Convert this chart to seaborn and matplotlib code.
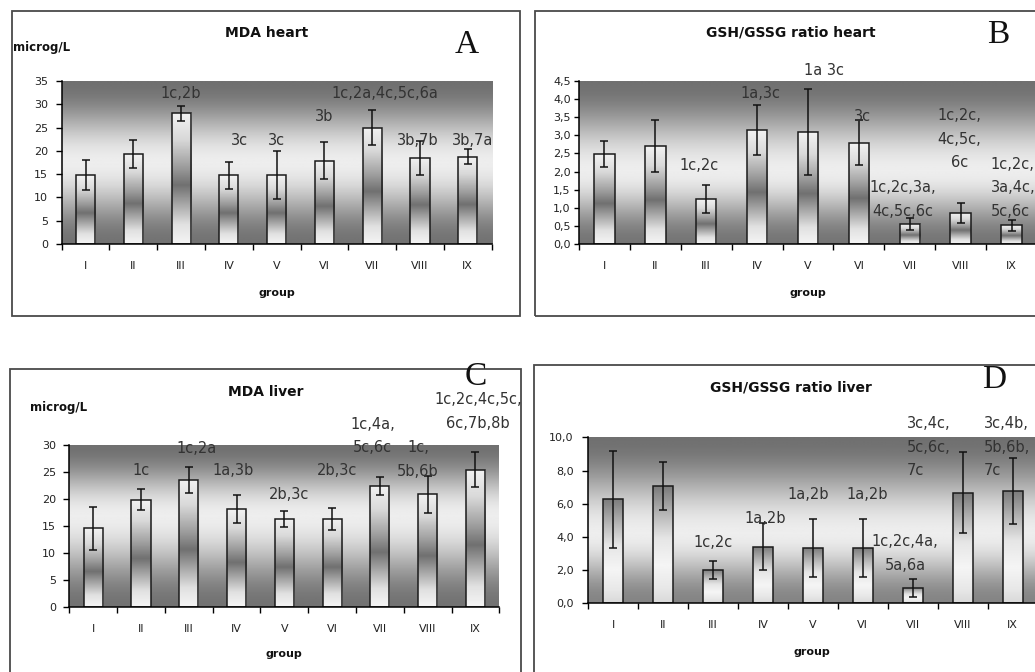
import numpy as np
import matplotlib
matplotlib.use("Agg")
import matplotlib.pyplot as plt
import seaborn as sns
import pandas as pd
from matplotlib.patches import Rectangle

# ---------------- data ----------------
groups = ["I", "II", "III", "IV", "V", "VI", "VII", "VIII", "IX"]

mda_heart = [14.8, 19.3, 28.1, 14.8, 14.8, 17.9, 25.0, 18.5, 18.7]
mda_heart_err = [3.2, 3.0, 1.6, 2.9, 5.1, 4.0, 3.8, 3.6, 1.6]
mda_heart_labels = ["", "", "1c,2b", "3c", "3c", "3b", "1c,2a,4c,5c,6a", "3b,7b", "3b,7a"]

gsh_heart = [2.48, 2.70, 1.24, 3.16, 3.09, 2.80, 0.55, 0.85, 0.52]
gsh_heart_err = [0.36, 0.72, 0.38, 0.69, 1.18, 0.62, 0.16, 0.28, 0.15]
gsh_heart_labels = ["", "", "1c,2c", "1a,3c", "1a 3c", "3c",
                    "1c,2c,3a,\n4c,5c,6c", "1c,2c,\n4c,5c,\n6c", "1c,2c,\n3a,4c,\n5c,6c"]

mda_liver = [14.6, 19.9, 23.5, 18.2, 16.3, 16.3, 22.4, 20.9, 25.4]
mda_liver_err = [4.0, 2.0, 2.35, 2.65, 1.45, 2.05, 1.7, 3.4, 3.25]
mda_liver_labels = ["", "1c", "1c,2a", "1a,3b", "2b,3c", "2b,3c",
                    "1c,4a,\n5c,6c", "1c,\n5b,6b", "1c,2c,4c,5c,\n6c,7b,8b"]

gsh_liver = [6.27, 7.07, 2.01, 3.41, 3.33, 3.33, 0.94, 6.67, 6.75]
gsh_liver_err = [2.93, 1.43, 0.52, 1.43, 1.77, 1.77, 0.55, 2.45, 2.0]
gsh_liver_labels = ["", "", "1c,2c", "1a,2b", "1a,2b", "1a,2b",
                    "1c,2c,4a,\n5a,6a", "3c,4c,\n5c,6c,\n7c", "3c,4b,\n5b,6b,\n7c"]

yticks_A = ["0", "5", "10", "15", "20", "25", "30", "35"]
yticks_B = ["0,0", "0,5", "1,0", "1,5", "2,0", "2,5", "3,0", "3,5", "4,0", "4,5"]
yticks_C = ["0", "5", "10", "15", "20", "25", "30"]
yticks_D = ["0,0", "2,0", "4,0", "6,0", "8,0", "10,0"]

titles = ["MDA heart", "GSH/GSSG ratio heart", "MDA liver", "GSH/GSSG ratio liver"]
letters = ["A", "B", "C", "D"]
unit_label = "microg/L"
x_label = "group"

# ---------------- layout (pixels of a 1035x672 canvas) ----------------
W, H = 1035, 672
fig = plt.figure(figsize=(W / 100, H / 100), dpi=100)
fig.patch.set_facecolor("white")


def fx(x):
    return x / W


def fy(y):
    return 1 - y / H


panels = [
    dict(vals=mda_heart, err=mda_heart_err, labs=mda_heart_labels, ytl=yticks_A, step=5,
         box=(61.7, 81, 491.7, 244), frame=(12, 11, 520, 316),
         title=(267, 33), unit=(12.5, 48), grp=(277, 293), letter=(467, 45),
         ypad=5.5, ylen=4.5, peak=0.5, bgb=0.45, barprof="mid",
         dx=[0, 0, 0, 0.22, 0, 0, 0.27, -0.05, 0.1],
         ly=[0, 0, 32.4, 22.2, 22.2, 27.3, 32.4, 22.2, 22.2],
         ha=["center"] * 9),
    dict(vals=gsh_heart, err=gsh_heart_err, labs=gsh_heart_labels, ytl=yticks_B, step=0.5,
         box=(579, 81, 1037, 244), frame=(535, 11, 1045, 316),
         title=(791, 33), unit=None, grp=(808, 293), letter=(998, 35),
         ypad=2.4, ylen=3.5, peak=0.45, bgb=0.46, barprof="mid",
         dx=[0, 0, -0.14, 0.06, 0.32, 0.08, -0.14, -0.03, -0.41],
         ly=[0, 0, 2.18, 4.16, 4.78, 3.51, 1.23, 2.89, 1.55],
         ha=["center"] * 8 + ["left"]),
    dict(vals=mda_liver, err=mda_liver_err, labs=mda_liver_labels, ytl=yticks_C, step=5,
         box=(69.3, 445, 499.3, 607.3), frame=(10, 369, 521, 690),
         title=(266, 392), unit=(30, 408), grp=(284, 654), letter=(476, 377),
         ypad=5.0, ylen=4.5, peak=0.56, bgb=0.45, barprof="mid",
         dx=[0, 0, 0.17, -0.08, 0.1, 0.1, -0.15, -0.2, 0.06],
         ly=[0, 25.2, 29.4, 25.2, 20.8, 25.2, 31.7, 27.3, 36.2],
         ha=["center"] * 9),
    dict(vals=gsh_liver, err=gsh_liver_err, labs=gsh_liver_labels, ytl=yticks_D, step=2,
         box=(588.3, 437.3, 1037.5, 603.3), frame=(534, 365, 1045, 690),
         title=(791, 388), unit=None, grp=(812, 652), letter=(994, 380),
         ypad=6.0, ylen=4.5, peak=0.42, bgb=0.52, barprof="top",
         dx=[0, 0, 0, 0.04, -0.1, 0.09, -0.15, -1.12, -0.58],
         ly=[0, 0, 3.65, 5.08, 6.53, 6.53, 2.99, 9.40, 9.40],
         ha=["center"] * 7 + ["left", "left"]),
]

FONT = "DejaVu Sans"
ANN_COLOR = "#333333"


def bg_profile(t, peak, dark_b):
    dark_t, light = 0.44, 0.93
    out = np.empty_like(t)
    lo = t <= peak
    out[lo] = dark_b + (light - dark_b) * (0.5 - 0.5 * np.cos(np.pi * t[lo] / peak))
    hi = ~lo
    out[hi] = dark_t + (light - dark_t) * (0.5 + 0.5 * np.cos(np.pi * (t[hi] - peak) / (1 - peak)))
    return out


def bar_profile(t, kind):
    if kind == "mid":
        return np.interp(t, [0, 0.15, 0.3, 0.45, 0.6, 0.8, 1.0],
                         [0.96, 0.88, 0.66, 0.44, 0.63, 0.85, 0.95])
    return np.interp(t, [0, 0.13, 0.32, 0.55, 0.74, 0.94, 1.0],
                     [0.85, 0.91, 0.96, 0.9, 0.73, 0.53, 0.48])


tgrid = np.linspace(0, 1, 300)

for i, p in enumerate(panels):
    x0, y0, x1, y1 = p["box"]
    ax = fig.add_axes([fx(x0), fy(y1), fx(x1 - x0), (y1 - y0) / H])
    ymax = (len(p["ytl"]) - 1) * p["step"]
    df = pd.DataFrame({"group": groups, "value": p["vals"]})
    sns.barplot(data=df, x="group", y="value", order=groups, color="white",
                saturation=1, width=0.4, errorbar=None, edgecolor="#1a1a1a",
                linewidth=1.1, ax=ax, zorder=3)
    # background gradient
    bg = bg_profile(tgrid, p["peak"], p["bgb"])[:, None]
    ax.imshow(bg, extent=[-0.5, 8.5, 0, ymax], origin="lower", cmap="gray",
              vmin=0, vmax=1, aspect="auto", zorder=0, interpolation="bilinear")
    # gradient fill for bars
    bprof = bar_profile(tgrid, p["barprof"])[:, None]
    for patch in ax.patches:
        bx, bw, bh = patch.get_x(), patch.get_width(), patch.get_height()
        im = ax.imshow(bprof, extent=[bx, bx + bw, 0, bh], origin="lower", cmap="gray",
                       vmin=0, vmax=1, aspect="auto", zorder=2, interpolation="bilinear")
        im.set_clip_path(patch)
        patch.set_facecolor("none")
        patch.set_zorder(3)
    ax.errorbar(np.arange(len(groups)), p["vals"], yerr=p["err"], fmt="none",
                ecolor="#111111", elinewidth=1.1, capsize=3.2, capthick=1.1, zorder=4)
    for k, lab in enumerate(p["labs"]):
        if lab:
            ax.text(k + p["dx"][k], p["ly"][k], lab, ha=p["ha"][k], va="center",
                    fontsize=10.5, family=FONT, color=ANN_COLOR, linespacing=1.7,
                    zorder=5, clip_on=False)
    ax.set_xlim(-0.5, 8.5)
    ax.set_ylim(0, ymax)
    ax.set_xticks(np.arange(len(groups)))
    ax.set_xticklabels(groups, fontsize=8, family=FONT, color="#222222")
    ax.set_xticks(np.arange(-0.5, 9, 1), minor=True)
    ax.tick_params(axis="x", which="major", length=0, pad=12)
    ax.tick_params(axis="x", which="minor", length=4.5, width=1, color="black", direction="out")
    ax.set_yticks(np.arange(len(p["ytl"])) * p["step"])
    ax.set_yticklabels(p["ytl"], fontsize=8, family=FONT, color="#222222")
    ax.tick_params(axis="y", length=p["ylen"], width=1, pad=p["ypad"], color="black", direction="out")
    ax.set_xlabel("")
    ax.set_ylabel("")
    for s in ["top", "right"]:
        ax.spines[s].set_visible(False)
    for s in ["left", "bottom"]:
        ax.spines[s].set_color("black")
        ax.spines[s].set_linewidth(1.1)
        ax.spines[s].set_zorder(6)

    # figure level decorations
    fl, ft, fr, fb = p["frame"]
    fig.add_artist(Rectangle((fx(fl), fy(fb)), fx(fr - fl), (fb - ft) / H,
                             transform=fig.transFigure, fill=False,
                             edgecolor="#4a4a4a", linewidth=1.3, zorder=0))
    fig.text(fx(p["title"][0]), fy(p["title"][1]), titles[i], ha="center", va="center",
             fontsize=10, fontweight="bold", family=FONT, color="#111111")
    if p["unit"] is not None:
        fig.text(fx(p["unit"][0]), fy(p["unit"][1]), unit_label, ha="left", va="center",
                 fontsize=8.5, fontweight="bold", family=FONT, color="#111111")
    fig.text(fx(p["grp"][0]), fy(p["grp"][1]), x_label, ha="center", va="center",
             fontsize=8, fontweight="bold", family=FONT, color="#111111")
    fig.text(fx(p["letter"][0]), fy(p["letter"][1]), letters[i], ha="center", va="center",
             fontsize=24, family="Liberation Serif", color="#111111")

fig.savefig("out.png", dpi=100, facecolor="white")
